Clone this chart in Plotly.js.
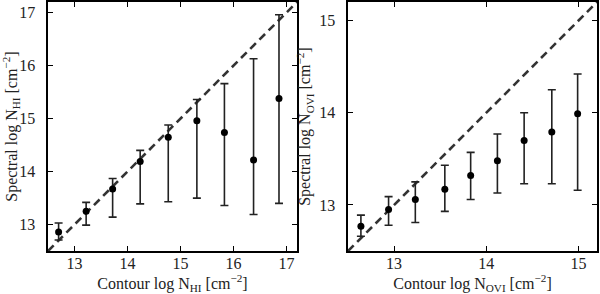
<!DOCTYPE html>
<html><head><meta charset="utf-8">
<script src="https://cdn.plot.ly/plotly-3.0.1.min.js"></script>
<style>html,body{margin:0;padding:0;background:#fff}#chart{width:600px;height:294px}</style>
</head><body><div id="chart"></div>
<script>
// Left panel: H I
const hiContour = [12.70, 13.22, 13.72, 14.24, 14.77, 15.31, 15.83, 16.38, 16.86];
const hiSpectral = [12.86, 13.25, 13.67, 14.19, 14.65, 14.96, 14.74, 14.22, 15.38];
const hiLow = [12.71, 12.99, 13.14, 13.39, 13.43, 13.50, 13.36, 13.19, 13.40];
const hiHigh = [13.03, 13.42, 13.87, 14.40, 14.88, 15.36, 15.66, 16.13, 16.96];
const hiRange = [12.5, 17.2];
const hiTicks = [13, 14, 15, 16, 17];

// Right panel: O VI
const oviContour = [12.64, 12.94, 13.23, 13.55, 13.83, 14.12, 14.41, 14.71, 14.99];
const oviSpectral = [12.77, 12.95, 13.06, 13.17, 13.32, 13.48, 13.70, 13.79, 13.99];
const oviLow = [12.66, 12.78, 12.81, 12.93, 13.06, 13.13, 13.23, 13.23, 13.16];
const oviHigh = [12.89, 13.09, 13.25, 13.43, 13.57, 13.77, 14.00, 14.25, 14.42];
const oviRange = [12.5, 15.2];
const oviTicks = [13, 14, 15];

const FONT = 'Liberation Serif, DejaVu Serif, serif';

function errTrace(x, y, lo, hi, xa, ya) {
  return {
    type: 'scatter', mode: 'markers', x: x, y: y, xaxis: xa, yaxis: ya,
    marker: {color: '#000', size: 7},
    error_y: {type: 'data', symmetric: false,
      array: hi.map((h, i) => h - y[i]),
      arrayminus: lo.map((l, i) => y[i] - l),
      color: '#222', thickness: 1.6, width: 4},
    showlegend: false, hoverinfo: 'skip'
  };
}
function diagTrace(r, xa, ya) {
  return {type: 'scatter', mode: 'lines', x: r, y: r, xaxis: xa, yaxis: ya,
    line: {color: '#333', width: 2.6, dash: '8px,5px'}, showlegend: false, hoverinfo: 'skip'};
}

const data = [
  diagTrace(hiRange, 'x', 'y'),
  errTrace(hiContour, hiSpectral, hiLow, hiHigh, 'x', 'y'),
  diagTrace(oviRange, 'x2', 'y2'),
  errTrace(oviContour, oviSpectral, oviLow, oviHigh, 'x2', 'y2')
];

const tfont = {family: FONT, size: 16, color: '#222'};
function ax(extra) {
  return Object.assign({
    showline: true, linecolor: '#000', linewidth: 1.6, mirror: 'ticks',
    ticks: 'inside', ticklen: 5, tickwidth: 1, tickcolor: '#000',
    showgrid: false, zeroline: false,
    tickfont: {family: FONT, size: 16, color: '#222'}
  }, extra);
}

const layout = {
  width: 600, height: 294,
  margin: {l: 0, r: 0, t: 0, b: 0},
  paper_bgcolor: '#fff', plot_bgcolor: '#fff',
  showlegend: false,
  xaxis: ax({domain: [0.08, 0.495], range: hiRange, tickvals: hiTicks, anchor: 'y', ticklabelstandoff: -3,
    title: {text: 'Contour log N<sub>HI</sub> [cm<sup>−2</sup>]', standoff: 3, font: tfont}}),
  yaxis: ax({domain: [0.146, 0.993], range: hiRange, tickvals: hiTicks, anchor: 'x', ticklabelstandoff: 8,
    title: {text: 'Spectral log N<sub>HI</sub> [cm<sup>−2</sup>]', standoff: 4, font: tfont}}),
  xaxis2: ax({domain: [0.58, 0.995], range: oviRange, tickvals: oviTicks, anchor: 'y2', ticklabelstandoff: -3,
    title: {text: 'Contour log N<sub>OVI</sub> [cm<sup>−2</sup>]', standoff: 3, font: tfont}}),
  yaxis2: ax({domain: [0.146, 0.993], range: oviRange, tickvals: oviTicks, anchor: 'x2', ticklabelstandoff: 8,
    title: {text: 'Spectral log N<sub>OVI</sub> [cm<sup>−2</sup>]', standoff: 4, font: tfont}})
};

Plotly.newPlot('chart', data, layout, {displayModeBar: false, staticPlot: true});
</script>
</body></html>
